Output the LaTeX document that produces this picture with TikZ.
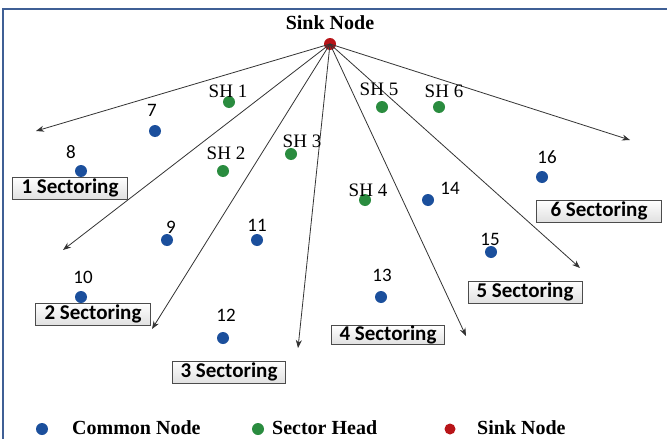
\documentclass[tikz,border=0pt]{standalone}
\usepackage{fontspec}
\setmainfont{Liberation Serif}
\newfontfamily\calfont{Carlito}
\usetikzlibrary{arrows.meta}
\definecolor{cblue}{HTML}{1B4F9C}
\definecolor{cgreen}{HTML}{2A8C3F}
\definecolor{cred}{HTML}{B81418}
\definecolor{frame}{HTML}{3F5F95}
\definecolor{lin}{HTML}{333333}
\tikzset{
  dotc/.style={circle,inner sep=0pt,minimum size=12pt,fill=cblue},
  dots/.style={circle,inner sep=0pt,minimum size=12pt,fill=cgreen},
  dotr/.style={circle,inner sep=0pt,minimum size=12pt,fill=cred},
  num/.style={font=\calfont\fontsize{19}{19}\selectfont,inner sep=0pt},
  shl/.style={font=\fontsize{19}{19}\selectfont,inner sep=0pt},
  secbox/.style={draw=black!70,line width=0.8pt,top color=white,bottom color=black!12,
    font=\calfont\bfseries\fontsize{21}{21}\selectfont,minimum height=22pt,inner sep=0pt},
  ray/.style={draw=lin,line width=0.8pt,-{Stealth[length=8pt,width=6pt]}},
  legt/.style={font=\bfseries\fontsize{20}{20}\selectfont,inner sep=0pt,anchor=west},
}
\begin{document}
\begin{tikzpicture}[x=1pt,y=-1pt]
\useasboundingbox (0,0) rectangle (667,439);
\fill[white] (0,0) rectangle (667,439);
\draw[frame,line width=2pt] (3,439) -- (3,9) -- (667,9);
% sink
\node[dotr] (sink) at (330,44) {};
\node[font=\bfseries\fontsize{20}{20}\selectfont,inner sep=0pt] (sinkl) at (330,23) {Sink Node};
% ray ends
\coordinate (t1) at (36,131);
\coordinate (t2) at (63,250);
\coordinate (t3) at (152,329);
\coordinate (t4) at (298,348);
\coordinate (t5) at (466,336);
\coordinate (t6) at (580,268);
\coordinate (t7) at (630,140);
\foreach \t in {t1,t2,t3,t4,t5,t6,t7}{\draw[ray] (sink.center) -- (\t);}
% sector heads
\node[dots] (sh1) at (229,102) {};
\node[shl] (sh1l) at (228,91) {SH 1};
\node[dots] (sh2) at (223,171) {};
\node[shl] (sh2l) at (226,153) {SH 2};
\node[dots] (sh3) at (291,154) {};
\node[shl] (sh3l) at (302,141) {SH 3};
\node[dots] (sh4) at (365,200) {};
\node[shl] (sh4l) at (368,190) {SH 4};
\node[dots] (sh5) at (382,107) {};
\node[shl] (sh5l) at (379,89) {SH 5};
\node[dots] (sh6) at (439,107) {};
\node[shl] (sh6l) at (444,91) {SH 6};
% common nodes
\node[dotc] (n7) at (155,131) {};
\node[num] (n7l) at (152,110) {7};
\node[dotc] (n8) at (81,171) {};
\node[num] (n8l) at (71,152) {8};
\node[dotc] (n9) at (167,240) {};
\node[num] (n9l) at (171,227) {9};
\node[dotc] (n10) at (81,297) {};
\node[num] (n10l) at (83,277) {10};
\node[dotc] (n11) at (257,240) {};
\node[num] (n11l) at (257,225) {11};
\node[dotc] (n12) at (223,338) {};
\node[num] (n12l) at (226,315) {12};
\node[dotc] (n13) at (381,297) {};
\node[num] (n13l) at (382,275) {13};
\node[dotc] (n14) at (428,200) {};
\node[num] (n14l) at (450,188) {14};
\node[dotc] (n15) at (491,252) {};
\node[num] (n15l) at (490,239) {15};
\node[dotc] (n16) at (542,177) {};
\node[num] (n16l) at (547,157) {16};
% sector boxes
\node[secbox,minimum width=115pt] (s1) at (70,188) {1 Sectoring};
\node[secbox,minimum width=115pt] (s2) at (93,314) {2 Sectoring};
\node[secbox,minimum width=113pt] (s3) at (229,372) {3 Sectoring};
\node[secbox,minimum width=113pt,minimum height=19pt] (s4) at (388,335) {4 Sectoring};
\node[secbox,minimum width=114pt] (s5) at (525,292) {5 Sectoring};
\node[secbox,minimum width=125pt] (s6) at (599,211) {6 Sectoring};
% legend
\node[dotc] (lg1) at (42,429) {};
\node[legt] (lg1t) at (72,428) {Common Node};
\node[dots] (lg2) at (258,429) {};
\node[legt] (lg2t) at (272,428) {Sector Head};
\node[dotr,minimum size=11pt] (lg3) at (450,429) {};
\node[legt] (lg3t) at (477,428) {Sink Node};
\end{tikzpicture}
\end{document}
